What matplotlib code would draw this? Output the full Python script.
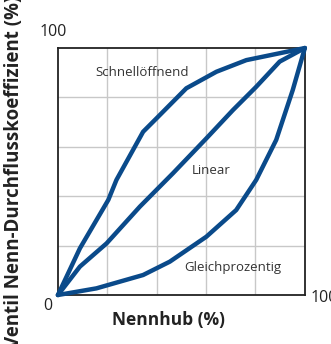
import numpy as np
import matplotlib.pyplot as plt

plt.rcParams["font.family"] = ["Open Sans", "DejaVu Sans"]

# Kennlinien (Nennhub % -> Kv %)
hub_schnell = [0, 8.9, 20.4, 23.7, 34.5, 39.9, 52, 64.2, 76.3, 100]
kv_schnell = [0, 18.9, 38.5, 46.6, 66.1, 71.5, 83.7, 90.4, 95.1, 100]

hub_linear = [0, 8.9, 19.7, 33.2, 46.6, 60.1, 70.9, 80.3, 89.8, 100]
kv_linear = [0, 11.5, 20.9, 35.8, 49.3, 63.4, 74.9, 84.3, 94.5, 100]

hub_gleich = [0, 15.6, 34.5, 45.3, 60.1, 72.2, 80.3, 88.4, 95.1, 100]
kv_gleich = [0, 2.7, 8.1, 13.5, 23.6, 34.4, 46.6, 62.8, 83.0, 100]

blue = "#0a4a8a"

fig = plt.figure(figsize=(3.31, 3.44), dpi=100)
ax = fig.add_axes([0.175, 0.1424, 0.746, 0.718])

for x, y in [(hub_schnell, kv_schnell), (hub_linear, kv_linear), (hub_gleich, kv_gleich)]:
    ax.plot(x, y, color=blue, lw=3.2, solid_joinstyle="round", solid_capstyle="round", clip_on=False, zorder=3)

ax.set_xlim(0, 100)
ax.set_ylim(0, 100)
ax.set_xticks([20, 40, 60, 80])
ax.set_yticks([20, 40, 60, 80])
ax.grid(True, color="#c8c8c8", lw=1)
ax.tick_params(length=0, labelbottom=False, labelleft=False)
for s in ax.spines.values():
    s.set_color("#222222")
    s.set_linewidth(1.3)

# Kurvenbeschriftungen
ax.text(34, 90, "Schnellöffnend", ha="center", va="center", fontsize=9.5, color="#333333")
ax.text(62, 50.5, "Linear", ha="center", va="center", fontsize=9.5, color="#333333")
ax.text(71, 11, "Gleichprozentig", ha="center", va="center", fontsize=9.5, color="#333333")

# Achsenwerte
ax.text(-2, 106.5, "100", ha="center", va="center", fontsize=11.5, color="#222222", clip_on=False)
ax.text(-4, -4.5, "0", ha="center", va="center", fontsize=11.5, color="#222222", clip_on=False)
ax.text(102.4, -1.2, "100", ha="left", va="center", fontsize=11.5, color="#222222", clip_on=False)

fig.text(0.508, 0.07, "Nennhub (%)", ha="center", va="center", fontsize=12.5, fontweight="bold", color="#222222")
fig.text(0.042, 0.5, "Ventil Nenn-Durchflusskoeffizient (%)", ha="center", va="center", rotation=90,
         fontsize=13.5, fontweight="bold", color="#222222")

plt.savefig("out.png", dpi=100)
